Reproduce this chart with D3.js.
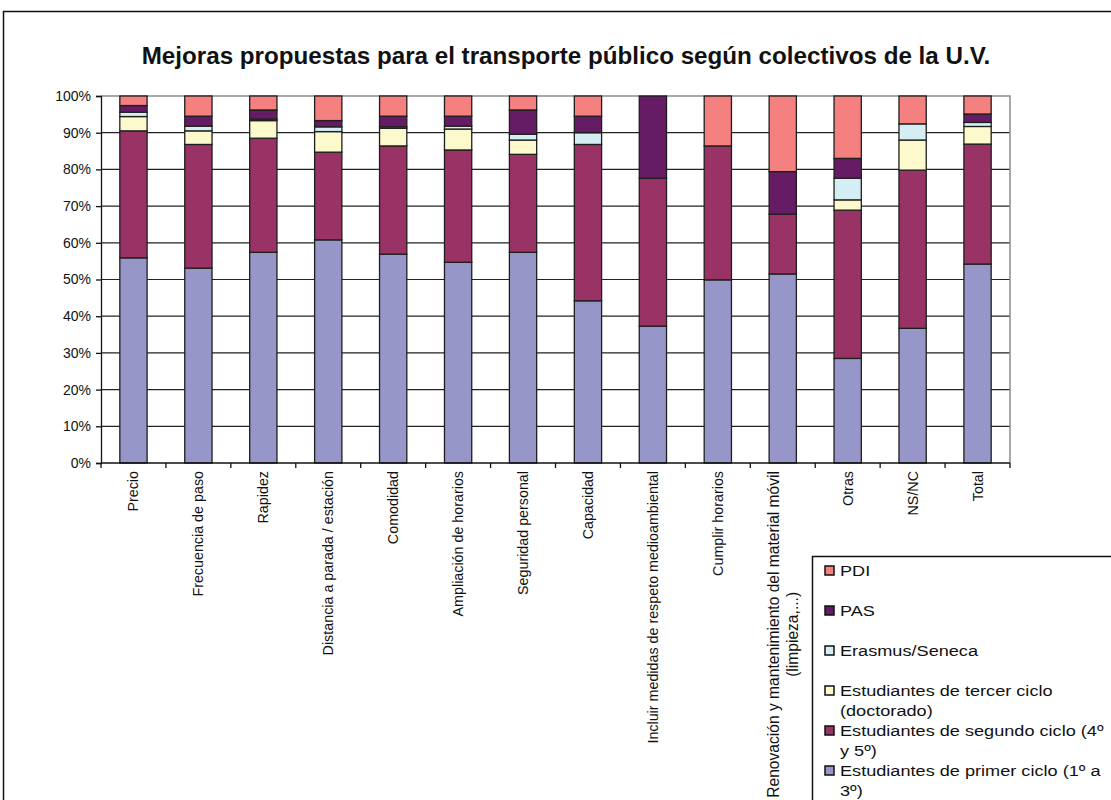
<!DOCTYPE html>
<html>
<head>
<meta charset="utf-8">
<script src="https://cdn.jsdelivr.net/npm/d3@7"></script>
<style>
  body { margin: 0; background: #fff; }
  svg { display: block; font-family: "Liberation Sans", Arial, sans-serif; }
</style>
</head>
<body>
<div id="chart"></div>
<script>
// categories on the x axis
let categories = ["Precio", "Frecuencia de paso", "Rapidez", "Distancia a parada / estación",
    "Comodidad", "Ampliación de horarios", "Seguridad personal", "Capacidad",
    "Incluir medidas de respeto medioambiental",
    "Cumplir horarios",
    "Renovación y mantenimiento del material móvil|(limpieza,...)",
    "Otras", "NS/NC", "Total"];

// percentages per collective (bottom to top)
let primerCiclo  = [55.9, 53.1, 57.4, 60.8, 56.9, 54.7, 57.4, 44.2, 37.3, 49.9, 51.5, 28.5, 36.7, 54.2];
let segundoCiclo = [34.6, 33.7, 31.1, 23.9, 29.5, 30.6, 26.7, 42.6, 40.3, 36.5, 16.3, 40.4, 43.1, 32.7];
let tercerCiclo  = [3.9, 3.7, 4.8, 5.6, 4.8, 5.7, 3.9, 0, 0, 0, 0, 2.8, 8.2, 4.8];
let erasmus      = [1.2, 1.3, 0.4, 1.3, 0.4, 0.8, 1.6, 3.2, 0, 0, 0, 5.9, 4.4, 1.1];
let pas          = [1.8, 2.7, 2.5, 1.7, 2.9, 2.7, 6.6, 4.5, 22.4, 0, 11.6, 5.4, 0, 2.3];
let pdi          = [2.6, 5.5, 3.8, 6.7, 5.5, 5.5, 3.8, 5.5, 0, 13.6, 20.6, 17.0, 7.6, 4.9];

let yTicks = [0, 10, 20, 30, 40, 50, 60, 70, 80, 90, 100];

let seriesKeys = ["primer", "segundo", "tercer", "erasmus", "pas", "pdi"];
let seriesColors = ["#9696c9", "#993366", "#fcf9cd", "#d4eef4", "#651c65", "#f4807f"];
// legend is listed top to bottom, lines already wrapped like the original
let legendLabels = [
    ["PDI"],
    ["PAS"],
    ["Erasmus/Seneca"],
    ["Estudiantes de tercer ciclo", "(doctorado)"],
    ["Estudiantes de segundo ciclo (4º", "y 5º)"],
    ["Estudiantes de primer ciclo (1º a", "3º)"]
];
let legendKeys = ["pdi", "pas", "erasmus", "tercer", "segundo", "primer"];

let width = 1111, height = 800;
let plot = {left: 101, right: 1010, top: 96, bottom: 463};

let svg = d3.select("#chart")
    .append("svg")
    .attr("width", width)
    .attr("height", height);

// outer chart frame (runs off the right and bottom edge)
svg.append("rect")
    .attr("x", 3.5).attr("y", 11.5)
    .attr("width", 1300).attr("height", 1000)
    .attr("fill", "none")
    .attr("stroke", "#111")
    .attr("stroke-width", 1.5);

svg.append("text")
    .attr("x", 566)
    .attr("y", 64)
    .style("text-anchor", "middle")
    .style("font-weight", "bold")
    .style("font-size", "24.2px")
    .attr("fill", "#111")
    .text("Mejoras propuestas para el transporte público según colectivos de la U.V.");

let rows = categories.map(function(c, i) {
    return {cat: c, primer: primerCiclo[i], segundo: segundoCiclo[i], tercer: tercerCiclo[i],
        erasmus: erasmus[i], pas: pas[i], pdi: pdi[i]};
});

let x = d3.scaleBand()
    .domain(categories)
    .range([plot.left, plot.right])
    .paddingInner(0.58)
    .paddingOuter(0.29);

let y = d3.scaleLinear()
    .domain([0, 100])
    .range([plot.bottom, plot.top]);

let color = d3.scaleOrdinal().domain(seriesKeys).range(seriesColors);

// gridlines
svg.append("g")
    .selectAll("line")
    .data(yTicks.filter(function(t) { return t > 0 && t < 100; }))
    .enter()
    .append("line")
    .attr("x1", plot.left).attr("x2", plot.right)
    .attr("y1", function(d) { return y(d); })
    .attr("y2", function(d) { return y(d); })
    .attr("stroke", "#222")
    .attr("stroke-width", 1.2);

// plot area top and right border (grey)
svg.append("path")
    .attr("d", `M${plot.left},${y(100)}H${plot.right}V${plot.bottom}`)
    .attr("fill", "none")
    .attr("stroke", "#8c8c8c")
    .attr("stroke-width", 1.5);

let stacked = d3.stack().keys(seriesKeys)(rows);

let layers = svg.append("g")
    .selectAll("g")
    .data(stacked)
    .enter()
    .append("g")
    .attr("fill", function(d) { return color(d.key); });

layers.selectAll("rect")
    .data(function(d) { return d.filter(function(s) { return s[1] - s[0] > 0; }); })
    .enter()
    .append("rect")
    .attr("x", function(d) { return x(d.data.cat); })
    .attr("y", function(d) { return y(d[1]); })
    .attr("width", x.bandwidth())
    .attr("height", function(d) { return y(d[0]) - y(d[1]); })
    .attr("stroke", "#1e1e1e")
    .attr("stroke-width", 1.3);

// y axis
let yAxis = svg.append("g")
    .attr("transform", `translate(${plot.left},0)`)
    .call(d3.axisLeft(y).tickValues(yTicks).tickSize(5).tickPadding(5)
        .tickFormat(function(d) { return d + "%"; }));
yAxis.select(".domain").attr("stroke", "#111").attr("stroke-width", 1.3);
yAxis.selectAll(".tick line").attr("stroke", "#111").attr("stroke-width", 1.3);
yAxis.selectAll("text")
    .style("font-size", "14px")
    .style("font-family", "Liberation Sans, Arial, sans-serif")
    .attr("fill", "#111");

// x axis line and ticks at category boundaries
let step = x.step();
let bounds = d3.range(categories.length + 1).map(function(i) { return plot.left + i * step; });
svg.append("line")
    .attr("x1", plot.left).attr("x2", plot.right)
    .attr("y1", plot.bottom).attr("y2", plot.bottom)
    .attr("stroke", "#111")
    .attr("stroke-width", 1.3);
svg.append("g")
    .selectAll("line")
    .data(bounds)
    .enter()
    .append("line")
    .attr("x1", function(d) { return d; })
    .attr("x2", function(d) { return d; })
    .attr("y1", plot.bottom)
    .attr("y2", plot.bottom + 5)
    .attr("stroke", "#111")
    .attr("stroke-width", 1.3);

// rotated category labels
let labels = svg.append("g")
    .selectAll("text")
    .data(categories)
    .enter()
    .append("text")
    .attr("transform", function(d) {
        return `translate(${x(d) + x.bandwidth() / 2},471) rotate(-90)`;
    })
    .style("text-anchor", "end")
    .style("font-size", "14.3px")
    .attr("fill", "#111");

labels.each(function(d) {
    let lines = d.split("|");
    let t = d3.select(this);
    if (lines.length == 1) {
        t.append("tspan").attr("x", 0).attr("dy", "0.35em").text(lines[0]);
    } else {
        // the two-line label is set a bit larger in the original
        t.style("font-size", "15.6px");
        let first = t.append("tspan").attr("x", 0).attr("y", -9).attr("dy", "0.35em").text(lines[0]);
        let len = first.node().getComputedTextLength();
        t.append("tspan")
            .attr("x", -len / 2)
            .attr("y", 10)
            .attr("dy", "0.35em")
            .style("text-anchor", "middle")
            .text(lines[1]);
    }
});

// legend
let legend = svg.append("g").attr("transform", "translate(812,556)");
legend.append("rect")
    .attr("x", 0.5).attr("y", 0.5)
    .attr("width", 400).attr("height", 400)
    .attr("fill", "#fff")
    .attr("stroke", "#111")
    .attr("stroke-width", 1.5);

let items = legend.selectAll(".item")
    .data(legendKeys)
    .enter()
    .append("g")
    .attr("class", "item")
    .attr("transform", function(d, i) { return `translate(0,${20 + i * 40})`; });

items.append("rect")
    .attr("x", 13).attr("y", -10)
    .attr("width", 9).attr("height", 9)
    .attr("fill", function(d) { return color(d); })
    .attr("stroke", "#111")
    .attr("stroke-width", 1.5);

items.append("text")
    .attr("transform", "translate(28,0) scale(1.17,1)")
    .style("font-size", "15.5px")
    .attr("fill", "#111")
    .each(function(d, i) {
        let t = d3.select(this);
        legendLabels[i].forEach(function(line, j) {
            t.append("tspan").attr("x", 0).attr("y", j * 20).text(line);
        });
    });
</script>
</body>
</html>
